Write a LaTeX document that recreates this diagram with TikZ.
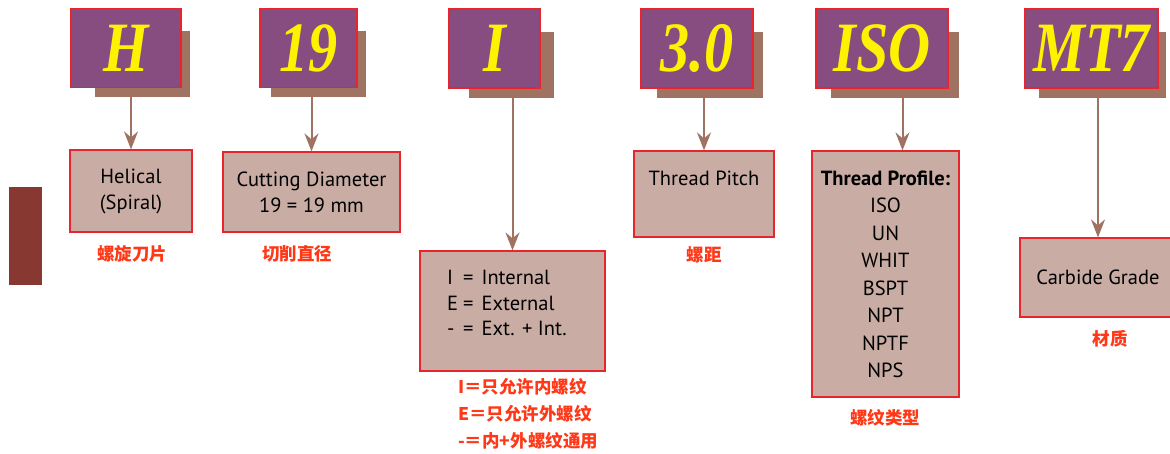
\documentclass[tikz,border=0pt]{standalone}
\usepackage{fontspec}
\setmainfont{PT Sans}
\newfontfamily\codefont{Liberation Serif}
\newfontfamily\cjk{Noto Sans CJK SC}
\usetikzlibrary{arrows.meta}

\definecolor{codepurple}{RGB}{135,76,128}
\definecolor{codeshadow}{RGB}{160,114,98}
\definecolor{codeyellow}{RGB}{255,242,0}
\definecolor{boxfill}{RGB}{201,172,164}
\definecolor{boxline}{RGB}{232,36,44}
\definecolor{notered}{RGB}{255,56,24}
\definecolor{sidebar}{RGB}{135,56,48}

\newcommand{\tallcode}[1]{\scalebox{0.97}[1.18]{#1}}

\tikzset{
  codebox/.style={draw=boxline, line width=1.2pt, fill=codepurple, text=codeyellow,
    minimum height=79pt, inner sep=0pt,
    font=\codefont\bfseries\itshape\fontsize{60}{60}\selectfont},
  infobox/.style={draw=boxline, line width=1.2pt, fill=boxfill, inner sep=0pt,
    font=\fontsize{20.5}{26}\selectfont, align=center},
  boxtext/.style={font=\fontsize{20.5}{25.5}\selectfont, inner sep=0pt},
  note/.style={text=notered, inner sep=0pt, font=\cjk\bfseries\fontsize{17.5}{27}\selectfont},
  pointer/.style={draw=codeshadow, line width=2pt,
    -{Stealth[length=18pt,width=14pt,inset=6pt]}}
}

\begin{document}
\begin{tikzpicture}[x=1pt, y=-1pt]
    \useasboundingbox (0,0) rectangle (1170,453);

    % Side bar
    \fill[sidebar] (9,187) rectangle (42,285);

    % Shadows behind the code letters
    \fill[codeshadow] (95,31) rectangle (190,97);
    \fill[codeshadow] (271,31) rectangle (366,97);
    \fill[codeshadow] (469,32) rectangle (554,98);
    \fill[codeshadow] (657,32) rectangle (763,98);
    \fill[codeshadow] (831,32) rectangle (959,98);
    \fill[codeshadow] (1039,32) rectangle (1166,98);

    % Code letters
    \node[codebox, minimum width=110pt] (H) at (126,48) {\tallcode{H}};
    \node[codebox, minimum width=97pt] (dia) at (308.5,48) {\tallcode{19}};
    \node[codebox, minimum width=91pt] (I) at (494.5,48.5) {\tallcode{I}};
    \node[codebox, minimum width=112pt] (pitchcode) at (697,48.5) {\tallcode{3.0}};
    \node[codebox, minimum width=132pt] (ISO) at (882,48.5) {\tallcode{ISO}};
    \node[codebox, minimum width=133pt] (MT) at (1091.5,48.5) {\tallcode{MT7}};

    % Explanation boxes
    \node[infobox, minimum width=122pt, minimum height=82pt] (helical) at (131,191)
        {Helical\\(Spiral)};
    \node[infobox, minimum width=177pt, minimum height=80pt] (cutting) at (311.5,192)
        {Cutting Diameter\\19 = 19 mm};
    \node[infobox, minimum width=185pt, minimum height=120pt] (ibox) at (512.5,311) {};
    \node[boxtext, anchor=west] (itext) at (447,305) {%
        \begin{tabular}{@{}l@{\hspace{5pt}}c@{\hspace{8pt}}l@{}}
          I & = & Internal\\
          E & = & External\\
          - & = & Ext. + Int.
        \end{tabular}};
    \node[infobox, minimum width=140pt, minimum height=86pt] (pitch) at (704,194) {};
    \node[boxtext] (pitchtext) at (704,178) {Thread Pitch};
    \node[infobox, minimum width=147pt, minimum height=246pt, text depth=0pt,
        font=\fontsize{20.5}{27.5}\selectfont] (profile) at (885.5,274)
        {\textbf{Thread Profile:}\\ISO\\UN\\WHIT\\BSPT\\NPT\\NPTF\\NPS};
    \node[infobox, minimum width=156pt, minimum height=79pt] (carbide) at (1098,277.5)
        {Carbide Grade};
    \coordinate (profiletop) at ([xshift=17pt]profile.north);

    % Arrows
    \draw[pointer] (H.south -| helical.north) -- (helical.north);
    \draw[pointer] (dia.south -| cutting.north) -- (cutting.north);
    \draw[pointer] (I.south -| ibox.north) -- (ibox.north);
    \draw[pointer] (pitchcode.south -| pitch.north) -- (pitch.north);
    \draw[pointer] (ISO.south -| profiletop) -- (profiletop);
    \draw[pointer] (MT.south -| carbide.north) -- (carbide.north);

    % Chinese notes
    \node[note] (helicalnote) at (132,254) {螺旋刀片};
    \node[note] (cuttingnote) at (297,254) {切削直径};
    \node[note, anchor=west] (inote1) at (458,387) {I＝只允许内螺纹};
    \node[note, anchor=west] (inote2) at (458,414) {E＝只允许外螺纹};
    \node[note, anchor=west] (inote3) at (458,441) {-＝内+外螺纹通用};
    \node[note] (pitchnote) at (704,255) {螺距};
    \node[note] (profilenote) at (885,418) {螺纹类型};
    \node[note] (carbidenote) at (1110,339) {材质};
\end{tikzpicture}
\end{document}
